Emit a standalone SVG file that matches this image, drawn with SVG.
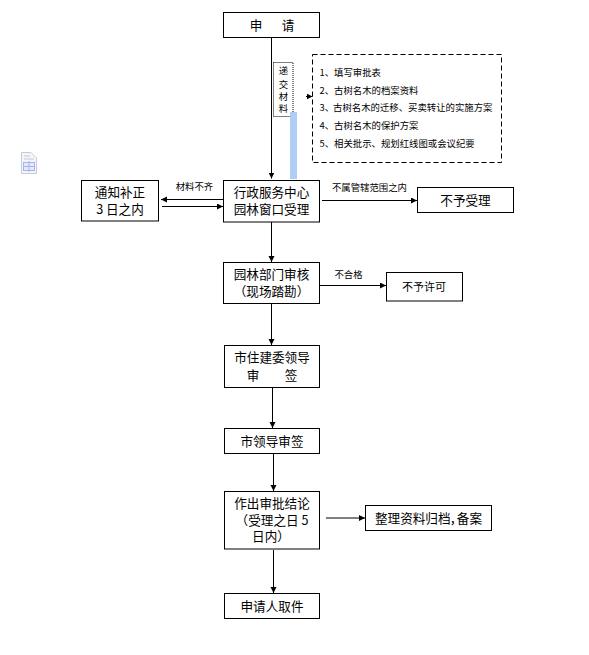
<svg xmlns="http://www.w3.org/2000/svg" width="589" height="655" viewBox="0 0 589 655">
<style>
.box{fill:#fff;stroke:#000;stroke-width:1}
.ln{fill:none;stroke:#000;stroke-width:1}
text{font-family:"Noto Sans CJK SC","Liberation Sans",sans-serif;fill:#000}
.t{font-size:12.6px;text-anchor:middle}
.s{font-size:9.4px}
.c{font-size:9.4px;text-anchor:middle}
.p{font-feature-settings:"palt"}
</style>
<defs>
<marker id="a" markerUnits="userSpaceOnUse" markerWidth="7" markerHeight="7" refX="6" refY="3" orient="auto"><path d="M0,0L6,3L0,6Z" fill="#000"/></marker>
</defs>
<g id="connectors">
<path class="ln" d="M271.500,37.500V178.500" marker-end="url(#a)"/>
<path class="ln" d="M306,96.500H312.500" marker-end="url(#a)"/>
<path class="ln" d="M223.500,199.500H161" marker-end="url(#a)"/>
<path class="ln" d="M162,206.500H223" marker-end="url(#a)"/>
<path class="ln" d="M322,200.500H417" marker-end="url(#a)"/>
<path class="ln" d="M271.500,222V262" marker-end="url(#a)"/>
<path class="ln" d="M319.500,285.500H386" marker-end="url(#a)"/>
<path class="ln" d="M271.500,303.500V345" marker-end="url(#a)"/>
<path class="ln" d="M272.500,387.500V428" marker-end="url(#a)"/>
<path class="ln" d="M273.500,453.500V491" marker-end="url(#a)"/>
<path class="ln" d="M326,518H365" marker-end="url(#a)"/>
<path class="ln" d="M273.500,550V593" marker-end="url(#a)"/>
</g>
<g id="icon">
<path d="M21.500,152.500H31L36.500,158V173.500H21.500Z" fill="#f4f5f8" stroke="#c6cbd8"/>
<path d="M24,156H30M24,159H34" stroke="#c6cbd8"/>
<rect x="23.500" y="162.500" width="11" height="8" fill="#e3e8fb" stroke="#a8b4ee"/>
<path d="M24,166.500H34M29,161V172" stroke="#a8b4ee"/>
</g>
<g id="n-apply"><rect class="box" x="223.500" y="12.500" width="96" height="25"/><text class="t" x="256" y="30">申</text><text class="t" x="288" y="30">请</text></g>
<g id="n-materials">
<rect x="273.500" y="62.500" width="19.500" height="54" fill="none" stroke="#000" stroke-dasharray="1 1"/>
<text class="c" x="283.500" y="74">递</text><text class="c" x="283.500" y="87.500">交</text><text class="c" x="283.500" y="100">材</text><text class="c" x="283.500" y="112">料</text>
</g>
<rect x="290" y="112" width="7" height="67" fill="#b0cdf7"/>
<g id="n-list">
<rect x="312.500" y="54.500" width="189" height="108" fill="none" stroke="#000" stroke-dasharray="5 3"/>
<text class="s" x="319.500" y="75.500">1、</text><text class="s" x="334" y="75.500">填写审批表</text>
<text class="s" x="319.500" y="93.500">2、</text><text class="s" x="334" y="93.500">古树名木的档案资料</text>
<text class="s" x="319.500" y="111">3、</text><text class="s" x="333" y="111">古树名木的迁移、买卖转让的实施方案</text>
<text class="s" x="319.500" y="129">4、</text><text class="s" x="334" y="129">古树名木的保护方案</text>
<text class="s" x="319.500" y="147">5、</text><text class="s" x="334" y="147">相关批示、规划红线图或会议纪要</text>
</g>
<g id="n-notice"><rect class="box" x="81.500" y="180.500" width="77" height="40.500"/><text class="t" x="120" y="197">通知补正</text><text class="t" x="120" y="214">3 日之内</text></g>
<g id="n-center"><rect class="box" x="223.500" y="180.500" width="96" height="41.500"/><text class="t" x="271.500" y="197">行政服务中心</text><text class="t" x="271.500" y="214">园林窗口受理</text></g>
<g id="n-reject"><rect class="box" x="417.500" y="187.500" width="96" height="25"/><text class="t" x="465.500" y="204.500">不予受理</text></g>
<g id="n-review"><rect class="box" x="223.500" y="262.500" width="96" height="41"/><text class="t" x="271.500" y="279">园林部门审核</text><text class="t" x="271.500" y="296">（现场踏勘）</text></g>
<g id="n-deny"><rect class="box" x="386.500" y="272.500" width="76" height="28.500"/><text class="c" style="font-size:11px" x="424" y="291">不予许可</text></g>
<g id="n-jw"><rect class="box" x="224.500" y="345.500" width="95" height="42"/><text class="t" x="272" y="362">市住建委领导</text><text class="t" x="253" y="380">审</text><text class="t" x="291" y="380">签</text></g>
<g id="n-city"><rect class="box" x="224.500" y="428.500" width="95" height="25"/><text class="t" x="272" y="445.500">市领导审签</text></g>
<g id="n-decide"><rect class="box" x="224.500" y="491.500" width="95" height="57.500"/><text class="t" x="272" y="508">作出审批结论</text><text class="t" x="272" y="525">（受理之日 5</text><text class="t" x="271" y="541">日内）</text></g>
<g id="n-archive"><rect class="box" x="365.500" y="505.500" width="126" height="25"/><text class="t" x="428.500" y="522.500">整理资料归档<tspan class="p">，</tspan>备案</text></g>
<g id="n-pickup"><rect class="box" x="224.500" y="593.500" width="95" height="25"/><text class="t" x="272" y="610.500">申请人取件</text></g>
<g id="labels">
<text class="c" x="194.500" y="190">材料不齐</text>
<text class="c" x="369.500" y="191">不属管辖范围之内</text>
<text class="c" x="348.500" y="278">不合格</text>
</g>
</svg>
